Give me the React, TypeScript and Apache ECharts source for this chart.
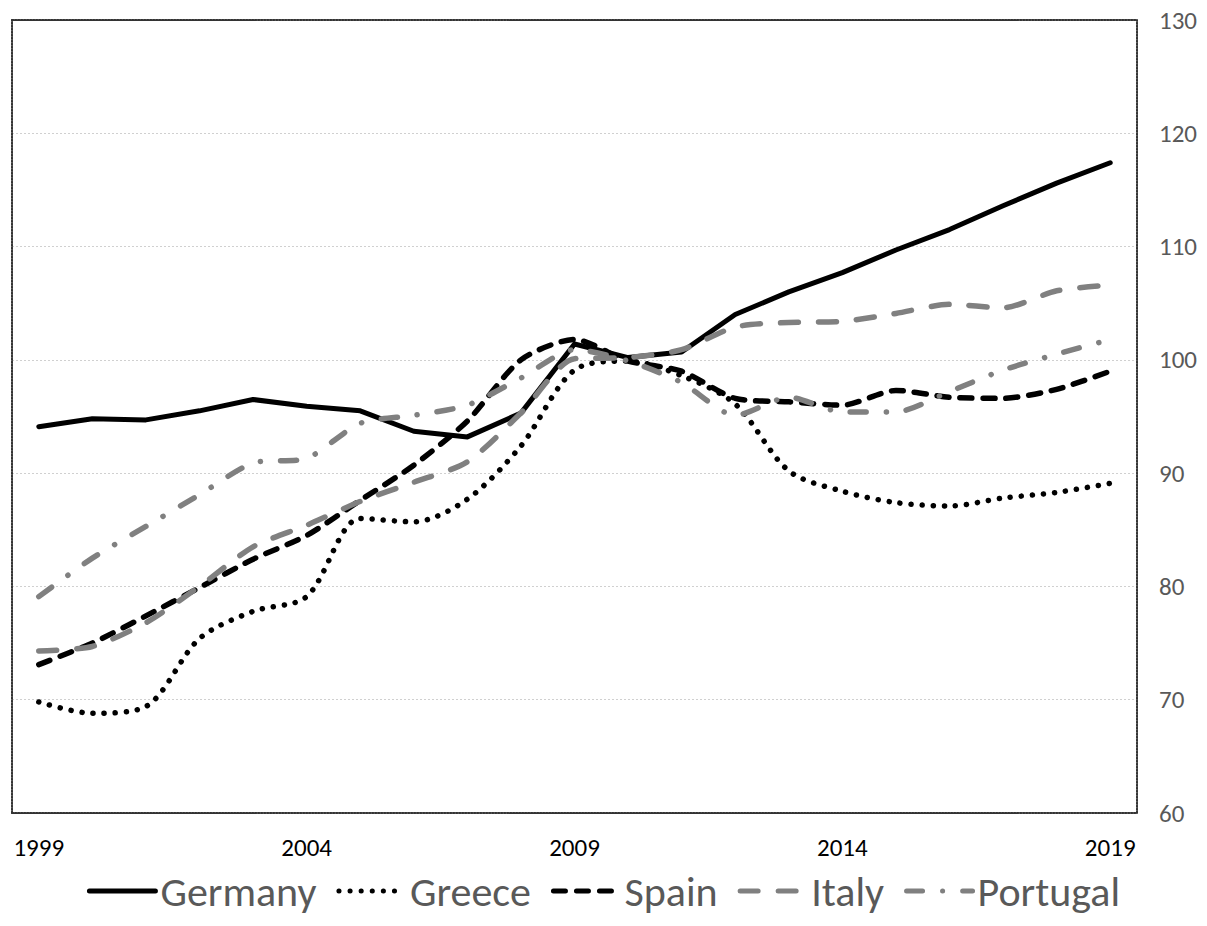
import React, { useEffect, useRef } from "react";
import * as echarts from "echarts";

const years = [
  "1999", "2000", "2001", "2002", "2003", "2004", "2005", "2006", "2007", "2008",
  "2009", "2010", "2011", "2012", "2013", "2014", "2015", "2016", "2017", "2018", "2019",
];

const germany = [94.1, 94.8, 94.7, 95.5, 96.5, 95.9, 95.5, 93.7, 93.2, 95.3, 101.4, 100.2, 100.7, 104.0, 106.0, 107.7, 109.7, 111.5, 113.6, 115.6, 117.4];
const greece = [69.8, 68.8, 69.4, 75.4, 77.8, 79.1, 86.0, 85.7, 87.7, 92.4, 99.1, 99.9, 98.6, 96.1, 90.2, 88.4, 87.4, 87.1, 87.8, 88.3, 89.1];
const spain = [73.1, 75.0, 77.4, 79.9, 82.4, 84.5, 87.6, 90.7, 94.6, 100.0, 101.8, 99.9, 99.0, 96.6, 96.3, 96.0, 97.3, 96.7, 96.6, 97.4, 99.0];
const italy = [74.3, 74.7, 76.8, 80.0, 83.5, 85.4, 87.5, 89.2, 91.0, 95.3, 100.1, 100.2, 100.9, 102.9, 103.3, 103.4, 104.1, 104.9, 104.6, 106.1, 106.6];
const portugal = [79.1, 82.5, 85.3, 88.1, 90.9, 91.3, 94.4, 95.1, 96.0, 98.4, 100.9, 99.9, 98.0, 95.1, 96.7, 95.4, 95.4, 97.2, 99.1, 100.5, 101.8];

const yTicks = { min: 60, max: 130, interval: 10 };

const FONT = 'Carlito, "Liberation Sans Narrow", "Noto Sans", sans-serif';

const borderLine = { show: true, lineStyle: { color: "#333333", width: 2, type: [1.5, 1.5] as any } };

export default function App() {
  const ref = useRef<HTMLDivElement>(null);
  useEffect(() => {
    const chart = echarts.init(ref.current!, null, { renderer: "svg" });
    const mk = (name: string, data: number[], color: string, width: number, type: any, cap: any, smooth: number | boolean) => ({
      name,
      type: "line",
      data,
      symbol: "none",
      showSymbol: false,
      smooth,
      lineStyle: { color, width, type, cap, join: "round" },
      itemStyle: { color },
    });
    chart.setOption({
      animation: false,
      backgroundColor: "#ffffff",
      textStyle: { fontFamily: FONT },
      grid: { left: 12, right: 70, top: 20, bottom: 113, containLabel: false },
      xAxis: [
        {
          type: "category",
          data: years,
          boundaryGap: true,
          axisLine: borderLine,
          axisTick: { show: false },
          axisLabel: { interval: 4, color: "#000000", fontSize: 25, margin: 22, fontFamily: FONT },
          splitLine: { show: false },
        },
        {
          type: "category",
          data: years,
          position: "top",
          boundaryGap: true,
          axisLine: borderLine,
          axisTick: { show: false },
          axisLabel: { show: false },
          splitLine: { show: false },
        },
      ],
      yAxis: [
        {
          type: "value",
          position: "right",
          min: yTicks.min,
          max: yTicks.max,
          interval: yTicks.interval,
          axisLine: borderLine,
          axisTick: { show: false },
          axisLabel: { color: "#595959", fontSize: 25, margin: 22, fontFamily: FONT },
          splitLine: { show: true, lineStyle: { color: "#d0d0d0", width: 1, type: [2, 2] } },
        },
        {
          type: "value",
          position: "left",
          min: yTicks.min,
          max: yTicks.max,
          interval: yTicks.interval,
          axisLine: borderLine,
          axisTick: { show: false },
          axisLabel: { show: false },
          splitLine: { show: false },
        },
      ],
      legend: {
        top: 865,
        left: "center",
        itemWidth: 66,
        itemHeight: 14,
        itemGap: 20,
        itemStyle: { color: "transparent", borderWidth: 0, opacity: 0 },
        lineStyle: { width: 5 },
        textStyle: { fontSize: 42, color: "#595959", fontFamily: FONT },
        data: ["Germany", "Greece", "Spain", "Italy", "Portugal"],
      },
      series: [
        mk("Germany", germany, "#000000", 5, "solid", "round", false),
        mk("Greece", greece, "#000000", 5.5, [0.1, 11], "round", 0.3),
        mk("Spain", spain, "#000000", 5.5, [12, 11], "round", 0.25),
        mk("Italy", italy, "#808080", 5.5, [18, 20], "round", 0.25),
        mk("Portugal", portugal, "#808080", 5.5, [16, 20, 0.1, 20], "round", 0.25),
      ],
    });
    return () => chart.dispose();
  }, []);
  return (
    <div
      ref={ref}
      style={{ position: "fixed", left: 0, top: 0, width: 1207, height: 926, background: "#ffffff" }}
    />
  );
}
